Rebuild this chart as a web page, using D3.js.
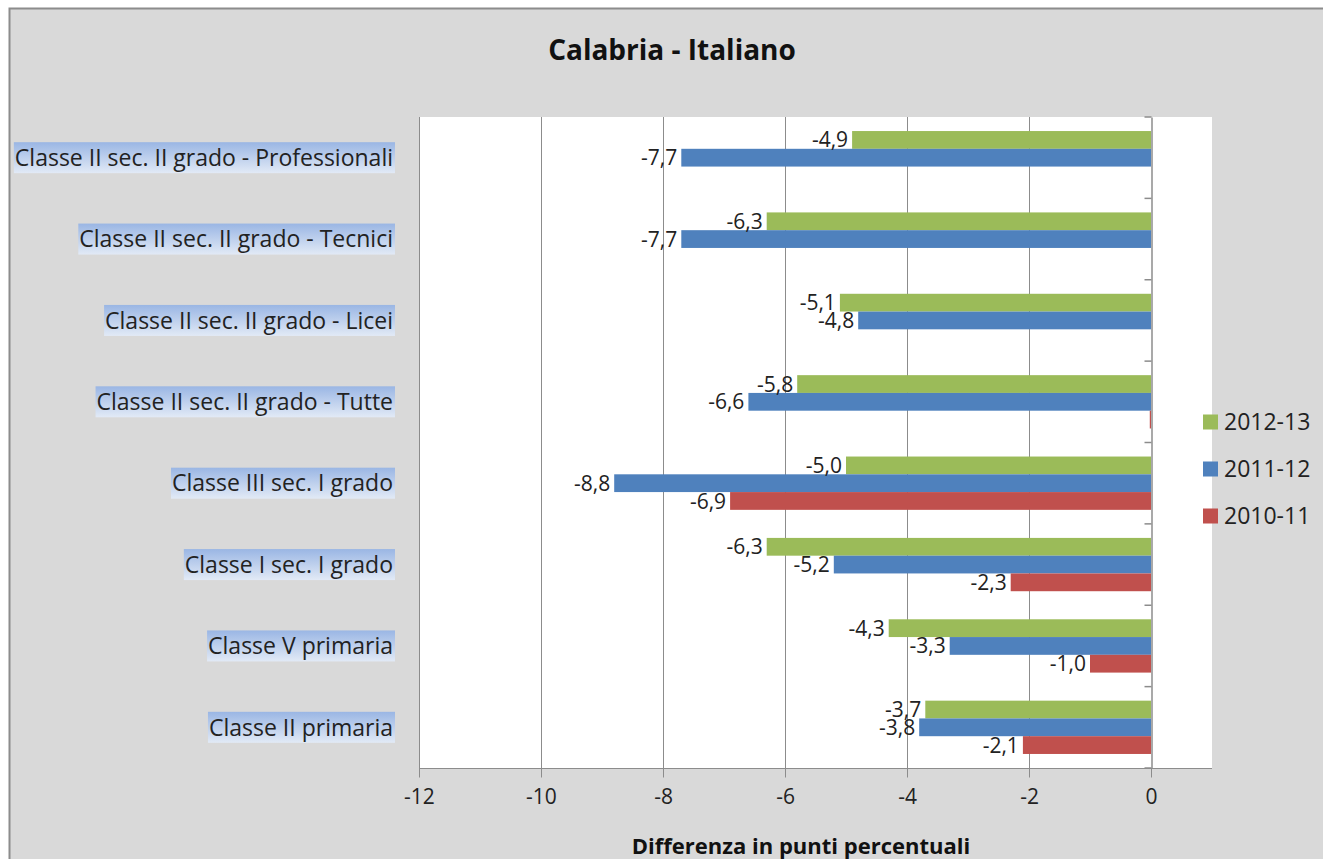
<!DOCTYPE html>
<html><head><meta charset="utf-8">
<script src="https://cdn.jsdelivr.net/npm/d3@7"></script>
<style>
html,body{margin:0;padding:0;background:#fff;}
svg{display:block;font-family:"Open Sans", sans-serif;}
</style></head>
<body>
<svg id="chart" width="1323" height="859"></svg>
<script>
const categories = [
  "Classe II sec. II grado - Professionali",
  "Classe II sec. II grado - Tecnici",
  "Classe II sec. II grado - Licei",
  "Classe II sec. II grado - Tutte",
  "Classe III sec. I grado",
  "Classe I sec. I grado",
  "Classe V primaria",
  "Classe II primaria"
];
const seriesNames = ["2012-13", "2011-12", "2010-11"];
const values2012_13 = [-4.9, -6.3, -5.1, -5.8, -5.0, -6.3, -4.3, -3.7];
const values2011_12 = [-7.7, -7.7, -4.8, -6.6, -8.8, -5.2, -3.3, -3.8];
const values2010_11 = [null, null, null, -0.02, -6.9, -2.3, -1.0, -2.1];
const xTicks = [-12, -10, -8, -6, -4, -2, 0];
const title = "Calabria - Italiano";
const xTitle = "Differenza in punti percentuali";

const colors = ["#9bbb59", "#4f81bd", "#c0504d"];
const seriesValues = [values2012_13, values2011_12, values2010_11];

const svg = d3.select("#chart");
svg.append("rect").attr("x", 9.5).attr("y", 8.5).attr("width", 1340).attr("height", 870)
  .attr("fill", "#d9d9d9").attr("stroke", "#8c8c8c").attr("stroke-width", 2);

const plot = {left: 419, right: 1212, top: 117, bottom: 768};
svg.append("rect").attr("x", plot.left).attr("y", plot.top)
  .attr("width", plot.right - plot.left).attr("height", plot.bottom - plot.top).attr("fill", "#fff");

const x = d3.scaleLinear().domain([-12, 1]).range([plot.left, plot.right]);
const y = d3.scaleBand().domain(categories).range([plot.top, plot.bottom]).padding(0);
const ySub = d3.scaleBand().domain(seriesNames).range([0, y.bandwidth()]).paddingInner(0).paddingOuter(0.79);

svg.append("g").selectAll("line").data(xTicks.filter(t => t !== 0)).join("line")
  .attr("x1", d => Math.round(x(d)) + 0.5).attr("x2", d => Math.round(x(d)) + 0.5)
  .attr("y1", plot.top).attr("y2", plot.bottom)
  .attr("stroke", "#8c8c8c").attr("stroke-width", 1);

const rows = [];
categories.forEach((c, i) => {
  seriesNames.forEach((s, j) => {
    const v = seriesValues[j][i];
    if (v !== null) rows.push({c, s, v, j});
  });
});
svg.append("g").selectAll("rect").data(rows).join("rect")
  .attr("x", d => x(Math.min(0, d.v)))
  .attr("width", d => Math.abs(x(d.v) - x(0)))
  .attr("y", d => y(d.c) + ySub(d.s))
  .attr("height", ySub.bandwidth())
  .attr("fill", d => colors[d.j]);

const xAxis = d3.axisBottom(x).tickValues(xTicks).tickSize(9).tickPadding(12)
  .tickFormat(d => d3.format("d")(d).replace("−", "-"));
const gx = svg.append("g").attr("transform", `translate(0,${plot.bottom + 0.5})`).call(xAxis);
gx.select(".domain").attr("d", `M${plot.left},0H${plot.right}`).attr("stroke", "#8c8c8c");
gx.selectAll(".tick line").attr("stroke", "#8c8c8c");
gx.selectAll(".tick text").attr("font-size", 21).attr("fill", "#222").attr("font-family", "'Open Sans', sans-serif");

const yAxis = d3.axisLeft(y).tickSize(0).tickFormat("");
const gy = svg.append("g").attr("transform", `translate(${Math.round(x(0)) + 0.5},0)`).call(yAxis);
gy.select(".domain").attr("stroke", "#8c8c8c").attr("stroke-width", 1.5);
const bounds = categories.map(c => y(c)).concat([plot.bottom]);
gy.selectAll(".bound").data(bounds).join("line").attr("class", "bound")
  .attr("x1", -7).attr("x2", 0).attr("y1", d => d).attr("y2", d => d)
  .attr("stroke", "#8c8c8c").attr("stroke-width", 1.5);

svg.append("g").selectAll("text").data(rows.filter(d => Math.abs(d.v) >= 0.05)).join("text")
  .attr("x", d => x(d.v) - 4)
  .attr("y", d => y(d.c) + ySub(d.s) + ySub.bandwidth() / 2)
  .attr("dy", "0.36em")
  .attr("text-anchor", "end")
  .attr("font-size", 21)
  .attr("fill", "#222")
  .text(d => d3.format(".1f")(d.v).replace("−", "-").replace(".", ","));

const defs = svg.append("defs");
const grad = defs.append("linearGradient").attr("id", "lblGrad").attr("x1", 0).attr("x2", 0).attr("y1", 0).attr("y2", 1);
grad.append("stop").attr("offset", "0%").attr("stop-color", "#9ab6e4");
grad.append("stop").attr("offset", "100%").attr("stop-color", "#e2eaf6");
const catG = svg.append("g");
categories.forEach(c => {
  const g = catG.append("g");
  const t = g.append("text").attr("x", 393).attr("y", y(c) + y.bandwidth() / 2).attr("dy", "0.36em")
    .attr("text-anchor", "end").attr("font-size", 23).attr("fill", "#222").text(c);
  const bb = t.node().getBBox();
  g.insert("rect", "text").attr("x", bb.x - 1).attr("y", y(c) + y.bandwidth() / 2 - 15.5)
    .attr("width", bb.width + 3).attr("height", 31).attr("fill", "url(#lblGrad)");
});

svg.append("text").attr("x", 672).attr("y", 50).attr("dy", "0.36em").attr("text-anchor", "middle")
  .attr("font-size", 28).attr("font-weight", "bold").attr("fill", "#111").text(title);
svg.append("text").attr("x", 801).attr("y", 846).attr("dy", "0.36em").attr("text-anchor", "middle")
  .attr("font-size", 22).attr("font-weight", "bold").attr("fill", "#111").text(xTitle);

const leg = svg.append("g").selectAll("g").data(seriesNames).join("g")
  .attr("transform", (d, i) => `translate(1203,${422 + i * 47})`);
leg.append("rect").attr("x", 0).attr("y", -7.5).attr("width", 15).attr("height", 15).attr("fill", (d, i) => colors[i]);
leg.append("text").attr("x", 21).attr("dy", "0.36em").attr("font-size", 23).attr("fill", "#222").text(d => d);
</script>
</body></html>
